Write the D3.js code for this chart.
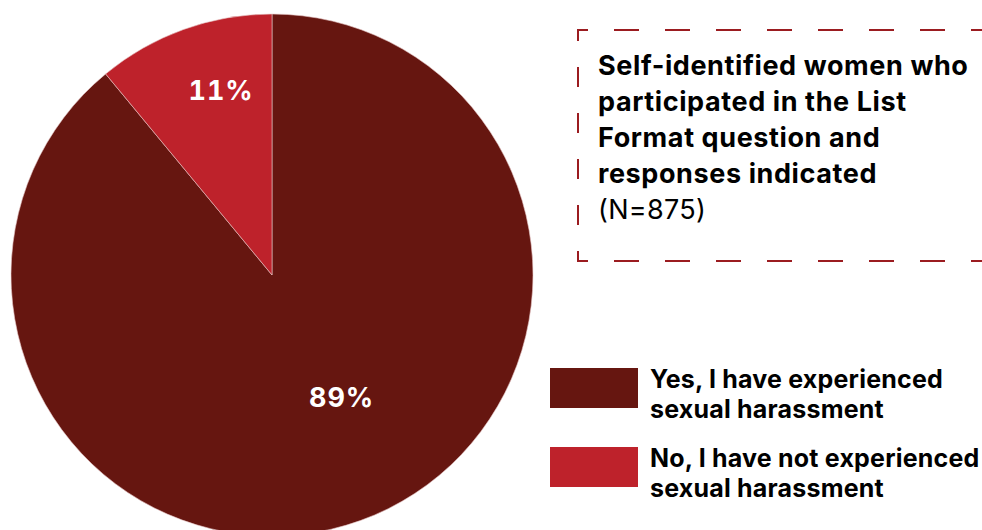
<!DOCTYPE html>
<html>
<head>
<meta charset="utf-8">
<script src="https://cdn.jsdelivr.net/npm/d3@7"></script>
<style>
html,body{margin:0;padding:0;background:#fff;}
svg{display:block;}
</style>
</head>
<body>
<svg id="chart" width="982" height="530"></svg>
<script>
const categories = ["Yes, I have experienced sexual harassment", "No, I have not experienced sexual harassment"];
const legendLines = [["Yes, I have experienced", "sexual harassment"], ["No, I have not experienced", "sexual harassment"]];
const values = [89, 11];
const labels = ["89%", "11%"];
const colors = ["#661610", "#be222b"];
const titleLines = ["Self-identified women who", "participated in the List", "Format question and", "responses indicated"];
const noteText = "(N=875)";

const svg = d3.select("#chart");
const cx = 272, cy = 275, r = 261;

const pie = d3.pie().sort(null).value(d => d)(values);
const arc = d3.arc().innerRadius(0).outerRadius(r);
const g = svg.append("g").attr("transform", `translate(${cx},${cy})`);
g.selectAll("path").data(pie).join("path")
  .attr("d", arc)
  .attr("fill", (d, i) => colors[i])
  .attr("stroke", "#e8c8c8")
  .attr("stroke-width", 0.6);

// label placement style: radius fraction and angular nudge per slice
const labelFrac = [0.54, 0.735];
const labelShift = [-0.171, 0.077];
g.selectAll("text.lbl").data(pie).join("text")
  .attr("class", "lbl")
  .attr("transform", (d, i) => {
    const a = (d.startAngle + d.endAngle) / 2 + labelShift[i];
    const rr = r * labelFrac[i];
    return `translate(${Math.sin(a) * rr},${-Math.cos(a) * rr})`;
  })
  .attr("text-anchor", "middle")
  .attr("dy", "0.36em")
  .attr("fill", "#fff")
  .attr("font-family", "Inter, 'Open Sans', sans-serif")
  .attr("font-weight", 700)
  .attr("font-size", 27)
  .style("font-variant-numeric", "tabular-nums")
  .attr("letter-spacing", 1)
  .text((d, i) => labels[i]);

// dashed box
const bx0 = 578, by0 = 30, by1 = 261, bx1 = 990;
const boxColor = "#9b1c20";
svg.append("line").attr("x1", bx0).attr("y1", by0).attr("x2", bx1).attr("y2", by0)
  .attr("stroke", boxColor).attr("stroke-width", 2)
  .attr("stroke-dasharray", "25,26").attr("stroke-dashoffset", 15);
svg.append("line").attr("x1", bx0).attr("y1", by1).attr("x2", bx1).attr("y2", by1)
  .attr("stroke", boxColor).attr("stroke-width", 2)
  .attr("stroke-dasharray", "25,26").attr("stroke-dashoffset", 15);
svg.append("line").attr("x1", bx0).attr("y1", by0 - 1).attr("x2", bx0).attr("y2", by1 + 1)
  .attr("stroke", boxColor).attr("stroke-width", 2)
  .attr("stroke-dasharray", "20,26").attr("stroke-dashoffset", 8);

const title = svg.append("text")
  .attr("font-family", "Inter, sans-serif")
  .attr("font-size", 27)
  .attr("letter-spacing", 0.6)
  .attr("fill", "#000");
titleLines.forEach((t, i) => {
  title.append("tspan").attr("x", 598).attr("y", 75 + i * 36)
    .attr("font-weight", 700).text(t);
});
title.append("tspan").attr("x", 598).attr("y", 219)
  .attr("font-weight", 400).attr("letter-spacing", 0.3).text(noteText);

// legend
const leg = svg.append("g");
categories.forEach((c, i) => {
  const y0 = 368 + i * 79;
  leg.append("rect").attr("x", 550).attr("y", y0).attr("width", 88).attr("height", 40)
    .attr("fill", colors[i]);
  const t = leg.append("text").attr("font-family", "Inter, sans-serif")
    .attr("font-size", 25).attr("font-weight", 700).attr("letter-spacing", 0.2).attr("fill", "#000");
  legendLines[i].forEach((l, j) => {
    t.append("tspan").attr("x", 650).attr("y", y0 + 20 + j * 30).text(l);
  });
});
</script>
</body>
</html>
